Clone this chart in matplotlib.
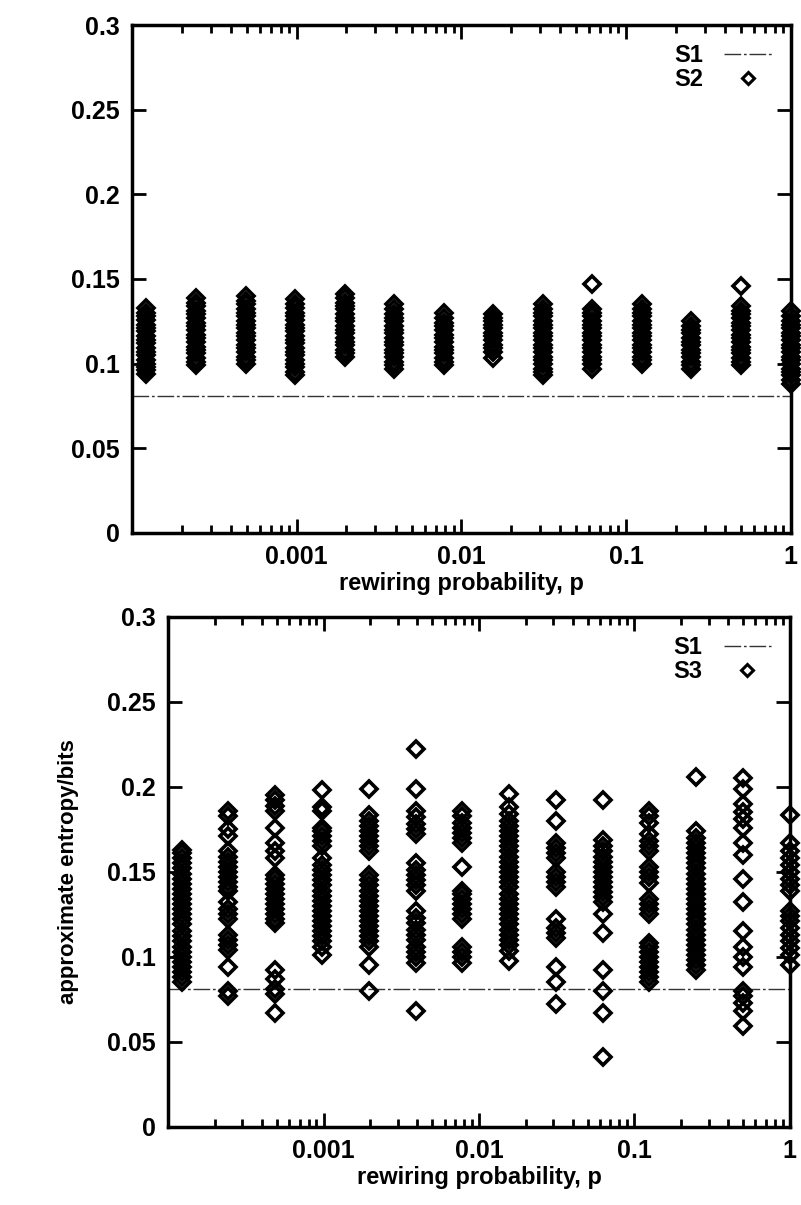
"""Approximate entropy vs rewiring probability: S1 baseline against S2 / S3 runs."""

import matplotlib

matplotlib.use("Agg")
import matplotlib.pyplot as plt
from matplotlib.ticker import FixedLocator, LogLocator, NullFormatter

# rewiring probabilities p = 2^-13 ... 2^0
P_VALUES = [2.0 ** -k for k in range(13, -1, -1)]
S1_LEVEL = 0.081

# top panel, S2: one list per p column
S2 = [
    [0.094, 0.096, 0.098, 0.100, 0.102, 0.105, 0.107, 0.109, 0.112, 0.114, 0.116, 0.119, 0.121, 0.123, 0.126, 0.128, 0.130, 0.133],
    [0.099, 0.101, 0.103, 0.106, 0.108, 0.110, 0.113, 0.115, 0.117, 0.120, 0.122, 0.124, 0.127, 0.129, 0.131, 0.134, 0.136, 0.139],
    [0.100, 0.102, 0.104, 0.107, 0.109, 0.111, 0.114, 0.116, 0.118, 0.121, 0.123, 0.125, 0.128, 0.130, 0.132, 0.135, 0.137, 0.140],
    [0.093, 0.095, 0.098, 0.100, 0.102, 0.105, 0.107, 0.109, 0.112, 0.114, 0.116, 0.119, 0.121, 0.123, 0.126, 0.128, 0.130, 0.133, 0.135, 0.138],
    [0.104, 0.106, 0.108, 0.111, 0.113, 0.115, 0.118, 0.120, 0.122, 0.125, 0.127, 0.129, 0.132, 0.134, 0.136, 0.139, 0.141],
    [0.097, 0.099, 0.101, 0.104, 0.106, 0.108, 0.111, 0.113, 0.115, 0.118, 0.120, 0.122, 0.125, 0.127, 0.129, 0.132, 0.135],
    [0.099, 0.101, 0.103, 0.106, 0.108, 0.110, 0.113, 0.115, 0.117, 0.120, 0.122, 0.124, 0.127, 0.130],
    [0.103, 0.107, 0.109, 0.111, 0.114, 0.116, 0.118, 0.121, 0.123, 0.125, 0.127, 0.129],
    [0.093, 0.095, 0.097, 0.100, 0.102, 0.104, 0.107, 0.109, 0.111, 0.114, 0.116, 0.118, 0.121, 0.123, 0.125, 0.128, 0.130, 0.132, 0.135],
    [0.097, 0.100, 0.102, 0.104, 0.107, 0.109, 0.111, 0.114, 0.116, 0.118, 0.121, 0.123, 0.125, 0.128, 0.130, 0.132, 0.147],
    [0.100, 0.102, 0.104, 0.107, 0.109, 0.111, 0.114, 0.116, 0.118, 0.121, 0.123, 0.125, 0.128, 0.130, 0.132, 0.135],
    [0.097, 0.099, 0.101, 0.104, 0.106, 0.108, 0.111, 0.113, 0.115, 0.118, 0.120, 0.122, 0.125],
    [0.099, 0.101, 0.103, 0.106, 0.108, 0.110, 0.113, 0.115, 0.117, 0.120, 0.122, 0.124, 0.127, 0.129, 0.131, 0.134, 0.146],
    [0.088, 0.090, 0.093, 0.095, 0.097, 0.100, 0.102, 0.104, 0.107, 0.109, 0.111, 0.114, 0.116, 0.118, 0.121, 0.123, 0.125, 0.128, 0.131],
]

# bottom panel, S3
S3 = [
    [0.085, 0.088, 0.091, 0.094, 0.097, 0.100, 0.103, 0.106, 0.109, 0.112, 0.115, 0.119, 0.122, 0.125,
     0.128, 0.131, 0.134, 0.137, 0.140, 0.143, 0.146, 0.149, 0.152, 0.155, 0.158, 0.161, 0.163],
    [0.077, 0.080, 0.094, 0.104, 0.107, 0.110, 0.113, 0.122, 0.125, 0.128, 0.132, 0.139, 0.141, 0.144,
     0.147, 0.150, 0.153, 0.156, 0.159, 0.162, 0.171, 0.175, 0.183, 0.186],
    [0.067, 0.078, 0.081, 0.087, 0.092, 0.120, 0.122, 0.125, 0.128, 0.131, 0.134, 0.137, 0.140, 0.143,
     0.146, 0.148, 0.158, 0.162, 0.167, 0.176, 0.186, 0.189, 0.192, 0.195],
    [0.101, 0.106, 0.109, 0.112, 0.115, 0.118, 0.121, 0.124, 0.127, 0.130, 0.133, 0.136, 0.139, 0.142,
     0.145, 0.148, 0.151, 0.154, 0.158, 0.165, 0.168, 0.171, 0.174, 0.176, 0.186, 0.188, 0.198],
    [0.080, 0.095, 0.106, 0.109, 0.112, 0.115, 0.118, 0.121, 0.124, 0.127, 0.130, 0.133, 0.136, 0.139,
     0.142, 0.145, 0.148, 0.162, 0.165, 0.168, 0.171, 0.174, 0.177, 0.180, 0.1835, 0.199],
    [0.068, 0.0965, 0.100, 0.103, 0.106, 0.110, 0.113, 0.116, 0.120, 0.123, 0.127, 0.139, 0.142, 0.145,
     0.148, 0.151, 0.155, 0.172, 0.175, 0.178, 0.182, 0.186, 0.199, 0.222],
    [0.0965, 0.100, 0.103, 0.106, 0.122, 0.125, 0.128, 0.131, 0.134, 0.137, 0.139, 0.153, 0.167, 0.170,
     0.173, 0.176, 0.179, 0.183, 0.186],
    [0.0976, 0.1035, 0.107, 0.110, 0.113, 0.116, 0.119, 0.122, 0.125, 0.128, 0.131, 0.134, 0.137, 0.141,
     0.144, 0.147, 0.150, 0.153, 0.156, 0.159, 0.162, 0.165, 0.168, 0.171, 0.174, 0.177, 0.180, 0.184,
     0.188, 0.196],
    [0.072, 0.085, 0.094, 0.111, 0.114, 0.117, 0.122, 0.141, 0.144, 0.147, 0.150, 0.158, 0.161, 0.164,
     0.167, 0.180, 0.192],
    [0.041, 0.067, 0.080, 0.092, 0.114, 0.125, 0.132, 0.135, 0.138, 0.141, 0.144, 0.147, 0.150, 0.153,
     0.156, 0.159, 0.162, 0.165, 0.169, 0.192],
    [0.085, 0.088, 0.091, 0.094, 0.097, 0.100, 0.103, 0.106, 0.108, 0.125, 0.128, 0.131, 0.134, 0.1435,
     0.147, 0.150, 0.153, 0.162, 0.165, 0.168, 0.172, 0.179, 0.183, 0.186],
    [0.092, 0.095, 0.098, 0.101, 0.104, 0.107, 0.110, 0.113, 0.116, 0.119, 0.122, 0.125, 0.128, 0.131,
     0.134, 0.137, 0.140, 0.143, 0.146, 0.149, 0.152, 0.155, 0.158, 0.161, 0.164, 0.167, 0.170, 0.174,
     0.206],
    [0.059, 0.068, 0.073, 0.077, 0.080, 0.094, 0.100, 0.106, 0.115, 0.132, 0.146, 0.160, 0.167, 0.176,
     0.181, 0.185, 0.190, 0.199, 0.205],
    [0.095, 0.101, 0.105, 0.109, 0.113, 0.117, 0.121, 0.124, 0.127, 0.139, 0.142, 0.146, 0.150, 0.154,
     0.158, 0.162, 0.167, 0.1835],
]

X_TICKS = [0.001, 0.01, 0.1, 1]
X_TICKLABELS = ["0.001", "0.01", "0.1", "1"]
Y_TICKS = [0, 0.05, 0.1, 0.15, 0.2, 0.25, 0.3]
Y_TICKLABELS = ["0", "0.05", "0.1", "0.15", "0.2", "0.25", "0.3"]

plt.rcParams["font.family"] = ["Liberation Sans", "DejaVu Sans"]
plt.rcParams["font.weight"] = "bold"

S1_STYLE = dict(color="#333333", lw=1.0, ls=(0, (12, 2, 2, 2)))
MARK_STYLE = dict(marker="D", ms=8.5, mfc="none", mec="black", mew=2.6, ls="none", clip_on=False)


def draw_panel(ax, cols, name):
    ax.plot([1e-4, 1], [S1_LEVEL, S1_LEVEL], label="S1", **S1_STYLE)
    for i, (p, vals) in enumerate(zip(P_VALUES, cols)):
        ax.plot([p] * len(vals), vals, label=name if i == 0 else None, **MARK_STYLE)

    ax.set_xscale("log")
    ax.set_xlim(1e-4, 1)
    ax.set_ylim(0, 0.3)
    ax.xaxis.set_major_locator(FixedLocator(X_TICKS))
    ax.set_xticklabels(X_TICKLABELS)
    ax.xaxis.set_minor_locator(LogLocator(base=10, subs=range(2, 10)))
    ax.xaxis.set_minor_formatter(NullFormatter())
    ax.set_yticks(Y_TICKS)
    ax.set_yticklabels(Y_TICKLABELS)
    ax.tick_params(which="both", direction="in", top=True, right=True,
                   labelsize=18, width=2, pad=9)
    ax.tick_params(which="major", length=10)
    ax.tick_params(which="minor", length=6)
    for s in ax.spines.values():
        s.set_linewidth(2.5)
    ax.set_xlabel("rewiring probability, p", fontsize=17, fontweight="bold", labelpad=2)
    leg = ax.legend(loc="upper right", frameon=False, markerfirst=False, fontsize=17,
                    handlelength=2.0, handletextpad=0.9, labelspacing=0.05,
                    borderaxespad=0.5, borderpad=0.3)
    for h in leg.legend_handles[1:]:
        h.set_markersize(6)
        h.set_markeredgewidth(2.2)


def main() -> None:
    fig = plt.figure(figsize=(8.01, 12.05), dpi=100)
    ax1 = fig.add_axes([0.165, 0.558, 0.822, 0.421])
    ax2 = fig.add_axes([0.210, 0.065, 0.776, 0.423])

    draw_panel(ax1, S2, "S2")
    draw_panel(ax2, S3, "S3")
    ax2.set_ylabel("approximate entropy/bits", fontsize=16, fontweight="bold", labelpad=20)

    fig.savefig("out.png", dpi=100)


if __name__ == "__main__":
    main()
